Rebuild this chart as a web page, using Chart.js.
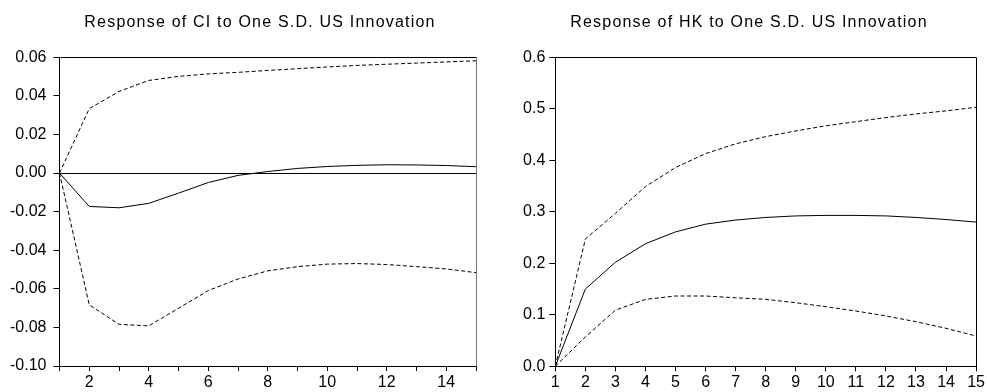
<!DOCTYPE html>
<html>
<head>
<meta charset="utf-8">
<script src="https://cdn.jsdelivr.net/npm/chart.js@4.4.1/dist/chart.umd.min.js"></script>
<style>
    html, body { margin: 0; padding: 0; background: #fff; }
    .panel { position: absolute; top: 0; height: 392px; }
    #ciPanel { left: 0; width: 490px; }
    #hkPanel { left: 490px; width: 497px; }
</style>
</head>
<body>
<div id="ciPanel" class="panel"><canvas id="ciChart"></canvas></div>
<div id="hkPanel" class="panel"><canvas id="hkChart"></canvas></div>
<script>
// --- dados ---
const periods = [1, 2, 3, 4, 5, 6, 7, 8, 9, 10, 11, 12, 13, 14, 15];

const ciResponse = [0, -0.0173, -0.0180, -0.0157, -0.0104, -0.0049, -0.0012, 0.0008, 0.0024, 0.0034, 0.0040, 0.0043, 0.0042, 0.0039, 0.0033];
const ciUpper    = [0, 0.0334, 0.0423, 0.0480, 0.0501, 0.0514, 0.0522, 0.0532, 0.0541, 0.0550, 0.0558, 0.0564, 0.0570, 0.0576, 0.0582];
const ciLower    = [0, -0.0683, -0.0784, -0.0792, -0.0701, -0.0609, -0.0549, -0.0507, -0.0485, -0.0472, -0.0469, -0.0474, -0.0485, -0.0497, -0.0516];

const hkResponse = [0, 0.150, 0.202, 0.238, 0.261, 0.276, 0.284, 0.289, 0.292, 0.293, 0.293, 0.292, 0.289, 0.285, 0.280];
const hkUpper    = [0, 0.247, 0.297, 0.349, 0.386, 0.413, 0.432, 0.446, 0.457, 0.467, 0.475, 0.483, 0.490, 0.496, 0.503];
const hkLower    = [0, 0.057, 0.109, 0.130, 0.1365, 0.1365, 0.133, 0.130, 0.1235, 0.1157, 0.1074, 0.0977, 0.0866, 0.0738, 0.0588];

const ciTitle = 'Response of CI to One S.D. US Innovation';
const hkTitle = 'Response of HK to One S.D. US Innovation';

const FONT = '"Liberation Sans", Arial, sans-serif';

// --- utilidades ---
function toPoints(values) {
    return values.map((v, i) => ({ x: periods[i], y: v }));
}

function lineDataset(values, dashed) {
    return {
        data: toPoints(values),
        borderColor: '#000',
        borderWidth: 1,
        borderDash: dashed ? [4, 2.5] : [],
        pointRadius: 0,
        tension: 0,
        fill: false
    };
}

// moldura (topo e direita) e título espaçado, como no original do EViews
const framePlugin = {
    id: 'frame',
    afterDraw(chart, args, opts) {
        const { ctx, chartArea: a } = chart;
        const l = Math.round(a.left) + 0.5, r = Math.round(a.right) + 0.5;
        const t = Math.round(a.top) + 0.5, b = Math.round(a.bottom) + 0.5;
        ctx.save();
        ctx.lineWidth = 1;
        ctx.strokeStyle = '#000';
        ctx.beginPath();
        ctx.moveTo(l, t);
        ctx.lineTo(r, t);
        ctx.stroke();
        ctx.strokeStyle = opts.rightColor || '#000';
        ctx.beginPath();
        ctx.moveTo(r, t);
        ctx.lineTo(r, b);
        ctx.stroke();

        // título
        ctx.fillStyle = '#000';
        ctx.font = '16px ' + FONT;
        ctx.textAlign = 'center';
        ctx.textBaseline = 'middle';
        if ('letterSpacing' in ctx) ctx.letterSpacing = '1.2px';
        ctx.fillText(opts.title, opts.titleX, 23);
        ctx.restore();
    }
};

function buildChart(canvasId, cfg) {
    const ctx = document.getElementById(canvasId).getContext('2d');
    return new Chart(ctx, {
        type: 'line',
        data: {
            datasets: [
                lineDataset(cfg.upper, true),
                lineDataset(cfg.response, false),
                lineDataset(cfg.lower, true)
            ]
        },
        options: {
            responsive: true,
            maintainAspectRatio: false,
            animation: false,
            layout: { padding: { left: 0, right: cfg.padRight, top: 57.3, bottom: 0 } },
            plugins: {
                legend: { display: false },
                tooltip: { enabled: false },
                title: { display: false },
                frame: { rightColor: cfg.rightColor, title: cfg.title, titleX: cfg.titleX }
            },
            scales: {
                x: {
                    type: 'linear',
                    min: 1,
                    max: 15,
                    afterFit: s => { s.height = cfg.xHeight; },
                    ticks: {
                        stepSize: 1,
                        autoSkip: false,
                        maxRotation: 0,
                        padding: 2,
                        color: '#000',
                        font: { family: FONT, size: 16 },
                        callback: cfg.xLabel
                    },
                    grid: { drawOnChartArea: false, tickLength: 5, tickColor: '#000' },
                    border: { display: true, color: '#000', width: 1 }
                },
                y: {
                    min: cfg.yMin,
                    max: cfg.yMax,
                    afterFit: s => { s.width = cfg.yWidth; },
                    ticks: {
                        stepSize: cfg.yStep,
                        padding: cfg.yPad,
                        color: '#000',
                        font: { family: FONT, size: 16 },
                        callback: v => (Math.abs(v) < 1e-9 ? 0 : v).toFixed(cfg.yDigits)
                    },
                    grid: {
                        drawOnChartArea: cfg.zeroLine,
                        color: c => (cfg.zeroLine && Math.abs(c.tick.value) < 1e-9) ? '#000' : 'rgba(0,0,0,0)',
                        tickColor: '#000',
                        tickLength: 6
                    },
                    border: { display: true, color: '#000', width: 1 }
                }
            }
        },
        plugins: [framePlugin]
    });
}

// --- painel esquerdo: CI ---
buildChart('ciChart', {
    title: ciTitle, titleX: 260,
    response: ciResponse, upper: ciUpper, lower: ciLower,
    yMin: -0.10, yMax: 0.06, yStep: 0.02, yDigits: 2,
    yWidth: 59.5, yPad: 7, xHeight: 26,
    padRight: 14, rightColor: '#777',
    zeroLine: true,
    xLabel: v => (v % 2 === 0 ? String(v) : '')
});

// --- painel direito: HK ---
buildChart('hkChart', {
    title: hkTitle, titleX: 259,
    response: hkResponse, upper: hkUpper, lower: hkLower,
    yMin: 0, yMax: 0.6, yStep: 0.1, yDigits: 1,
    yWidth: 65.3, yPad: 4, xHeight: 25.7,
    padRight: 8, rightColor: '#000',
    zeroLine: false,
    xLabel: v => String(v)
});
</script>
</body>
</html>
